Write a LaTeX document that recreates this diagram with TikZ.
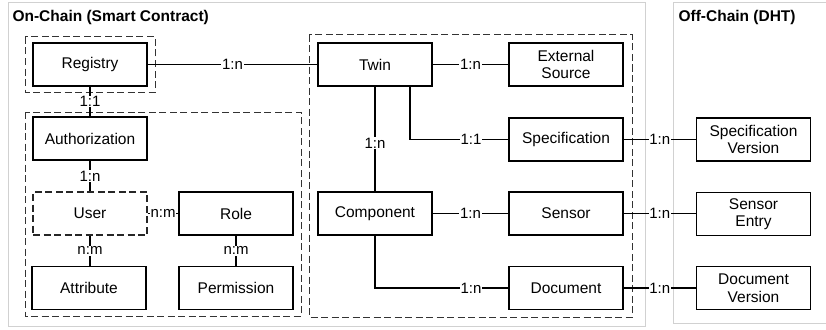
\documentclass[tikz,border=0pt]{standalone}
\usepackage{fontspec}
\setmainfont{Liberation Sans}
\begin{document}
\begin{tikzpicture}[x=1pt,y=-1pt,
  every node/.style={font=\fontsize{15.5}{17.5}\selectfont},
  entity/.style={draw, line width=1.2pt, minimum width=114pt, minimum height=43pt,
    inner sep=1pt, align=center},
  weak/.style={entity, dash pattern=on 7pt off 3.5pt, draw=black!85},
  group/.style={draw=black!80, line width=1pt, dash pattern=on 7pt off 3.5pt},
  frame/.style={draw=black!18, line width=1pt},
  link/.style={line width=1.2pt},
  card/.style={fill=white, inner sep=0.8pt, font=\fontsize{15}{17}\selectfont},
  title/.style={anchor=west, font=\fontsize{15.5}{17.5}\selectfont\bfseries}]
\useasboundingbox (0,0) rectangle (826,329);

% Outer frames: smart-contract side and DHT side
\draw[frame] (8,3) rectangle (645,326);
\draw[frame] (673,3) rectangle (830,323);
\node[title] (onchain) at (9,17) {On-Chain (Smart Contract)};
\node[title] (offchain) at (675,17) {Off-Chain (DHT)};

% Dashed groupings
\draw[group] (25,37) rectangle (155,92);
\draw[group] (25,112) rectangle (301,316);
\draw[group] (309,35) rectangle (632,317);

% Access-control entities
\node[entity] (reg)  at (90,64.5)  {Registry};
\node[entity] (auth) at (90,138.5) {Authorization};
\node[weak]   (user) at (90,213.5) {User};
\node[entity] (role) at (236,213.5) {Role};
\node[entity] (attr) at (89,288)   {Attribute};
\node[entity] (perm) at (236,288)  {Permission};

% Twin entities
\node[entity] (twin) at (375,64.5)  {Twin};
\node[entity] (ext)  at (566,64.5)  {External\\Source};
\node[entity] (spec) at (566,139.5) {Specification};
\node[entity] (comp) at (375,213.5) {Component};
\node[entity] (sens) at (566,213.5) {Sensor};
\node[entity] (doc)  at (566,288)   {Document};

% Off-chain entities
\node[entity] (specv) at (753.5,139.5) {Specification\\Version};
\node[entity] (sente) at (753.5,214)   {Sensor\\Entry};
\node[entity] (docv)  at (753.5,288)   {Document\\Version};

% Relations with cardinalities
\draw[link] (reg) -- node[card] {1:n} (twin);
\draw[link] (reg) -- node[card] {1:1} (auth);
\draw[link] (auth) -- node[card] {1:n} (user);
\draw[link] (user) -- node[card] {n:m} (role);
\draw[link] (user) -- node[card] {n:m} (attr.north -| user.south);
\draw[link] (role) -- node[card] {n:m} (perm);

\draw[link] (twin) -- node[card] {1:n} (ext);
\draw[link] (twin) -- node[card, pos=0.54] {1:n} (comp);
\draw[link] ([xshift=35pt]twin.south) |- node[card, pos=0.81] {1:1} (spec.west);
\draw[link] (comp) -- node[card] {1:n} (sens);
\draw[link] (comp.south) |- node[card, pos=0.86] {1:n} (doc.west);

\draw[link] (spec) -- node[card] {1:n} (specv);
\draw[link] (sens.east) -- node[card] {1:n} (sens.east -| sente.west);
\draw[link] (doc) -- node[card] {1:n} (docv);
\end{tikzpicture}
\end{document}
